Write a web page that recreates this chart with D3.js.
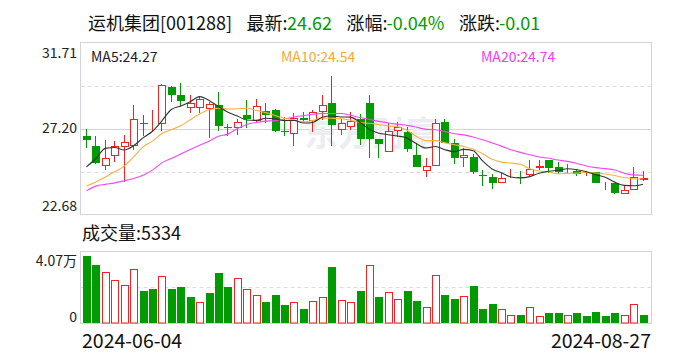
<!DOCTYPE html>
<html>
<head>
<meta charset="utf-8">
<script src="https://cdn.jsdelivr.net/npm/d3@7.9.0/dist/d3.min.js"></script>
<style>
  body { margin: 0; background: #fff; }
  svg { display: block; font-family: "Noto Sans CJK SC", "Noto Sans", sans-serif; }
</style>
</head>
<body>
<svg width="688" height="360"></svg>
<script>
// daily bars, 2024-06-04 .. 2024-08-27
const dateLabels = ['2024-06-04', '2024-08-27'];

const opens = [26.79, 26.27, 25.25, 25.76, 26.20, 26.27, 27.49, 27.33, 27.41, 29.38,
  28.94, 28.25, 28.25, 28.22, 28.42, 27.25, 27.20, 27.89, 27.58, 28.10,
  28.19, 27.07, 26.93, 27.77, 27.59, 28.07, 28.51, 27.14, 27.25, 27.70,
  28.51, 26.62, 25.94, 27.04, 27.02, 25.79, 24.94, 25.22, 27.51, 26.41,
  25.62, 25.70, 24.76, 24.64, 24.36, 24.63, 24.66, 24.73, 25.13, 25.53,
  25.15, 24.94, 24.97, 24.70, 24.89, 24.17, 24.31, 23.78, 23.99, 24.50];
const highs = [27.16, 26.79, 26.58, 26.54, 26.83, 28.42, 27.89, 28.16, 29.52, 29.45,
  29.56, 28.98, 28.85, 28.59, 29.12, 27.45, 27.72, 28.68, 28.77, 28.54,
  28.22, 27.80, 28.01, 28.04, 28.16, 28.94, 29.96, 27.67, 28.07, 27.98,
  28.95, 26.65, 27.46, 27.54, 27.25, 26.41, 25.64, 27.72, 27.72, 26.62,
  26.15, 25.85, 25.01, 24.80, 24.87, 25.09, 24.97, 25.53, 25.53, 25.53,
  25.43, 25.32, 25.09, 24.97, 24.92, 24.39, 24.34, 24.22, 25.18, 24.97];
const lows = [26.15, 25.32, 25.01, 25.44, 24.39, 26.09, 26.79, 27.05, 27.07, 28.59,
  28.30, 28.02, 28.02, 26.72, 27.05, 26.80, 26.83, 27.20, 27.46, 27.46,
  27.02, 26.79, 26.30, 27.53, 27.02, 27.63, 26.27, 26.84, 27.11, 26.32,
  25.62, 25.62, 25.94, 26.75, 25.97, 25.18, 24.66, 25.22, 26.41, 25.32,
  25.15, 24.80, 24.18, 24.02, 24.31, 24.62, 24.27, 24.70, 25.01, 24.85,
  24.78, 24.83, 24.71, 24.69, 24.31, 23.96, 23.78, 23.78, 23.99, 24.45];
const closes = [26.57, 25.39, 25.62, 26.25, 26.51, 27.70, 27.41, 27.38, 29.47, 28.98,
  28.64, 28.51, 28.73, 28.47, 27.33, 27.23, 27.51, 27.68, 28.35, 27.88,
  27.07, 27.05, 27.77, 27.63, 28.04, 28.45, 27.38, 27.49, 27.58, 26.65,
  26.67, 26.36, 27.07, 27.25, 26.11, 25.18, 25.25, 27.46, 26.41, 25.62,
  25.78, 24.89, 24.74, 24.34, 24.62, 24.67, 24.62, 25.09, 25.25, 25.13,
  24.89, 25.04, 24.83, 24.72, 24.36, 24.18, 23.82, 23.96, 24.63, 24.62];
const volumes = [40700, 35500, 31100, 26200, 23100, 32900, 19600, 20800, 28600, 20800,
  21900, 15900, 12700, 18400, 30700, 21900, 27400, 20700, 17000, 12700,
  17200, 11000, 12700, 9000, 13300, 15800, 34300, 13900, 12700, 19600,
  35400, 15800, 18800, 14500, 19600, 13500, 10200, 29200, 17200, 14700,
  16400, 22700, 9000, 11600, 9000, 5300, 5300, 10200, 4500, 6100,
  6100, 5300, 6100, 4700, 6700, 4700, 6100, 5300, 11500, 5334];

const ma5 = [25.18, 25.62, 26.15, 26.20, 26.07, 26.29, 26.70, 27.05, 27.60, 28.19,
  28.38, 28.60, 28.87, 28.67, 28.34, 28.05, 27.85, 27.64, 27.62, 27.73,
  27.70, 27.61, 27.62, 27.48, 27.51, 27.79, 27.85, 27.80, 27.79, 27.51,
  27.15, 26.95, 26.87, 26.80, 26.69, 26.39, 26.17, 26.25, 26.08, 25.98,
  26.10, 26.03, 25.49, 25.07, 24.87, 24.65, 24.60, 24.67, 24.85, 24.95,
  25.00, 25.08, 25.03, 24.92, 24.77, 24.63, 24.38, 24.21, 24.19, 24.27];
const ma10 = [24.18, 24.39, 24.65, 24.92, 25.22, 25.70, 26.23, 26.53, 26.93, 27.13,
  27.34, 27.65, 27.96, 28.18, 28.26, 28.22, 28.23, 28.26, 28.14, 28.03,
  27.88, 27.73, 27.63, 27.55, 27.62, 27.74, 27.73, 27.71, 27.63, 27.51,
  27.47, 27.40, 27.33, 27.29, 27.10, 26.77, 26.56, 26.56, 26.44, 26.34,
  26.25, 26.10, 25.87, 25.58, 25.43, 25.38, 25.32, 25.08, 24.96, 24.91,
  24.82, 24.84, 24.85, 24.89, 24.86, 24.81, 24.73, 24.62, 24.56, 24.54];
const ma20 = [23.92, 24.17, 24.26, 24.34, 24.45, 24.57, 24.74, 25.01, 25.39, 25.62,
  25.85, 26.09, 26.32, 26.53, 26.79, 26.90, 27.20, 27.41, 27.51, 27.58,
  27.61, 27.69, 27.80, 27.87, 27.94, 27.98, 27.98, 27.98, 27.89, 27.77,
  27.67, 27.57, 27.48, 27.42, 27.36, 27.26, 27.15, 27.13, 27.04, 26.92,
  26.86, 26.75, 26.60, 26.44, 26.27, 26.08, 25.94, 25.82, 25.70, 25.63,
  25.54, 25.47, 25.36, 25.23, 25.14, 25.09, 25.02, 24.85, 24.76, 24.74];

const priceTicks = ['22.68', '27.20', '31.71'];
const volTicks = ['0', '4.07万'];

const RED = '#f02424', GREEN = '#009b00';
const svg = d3.select('svg');
const n = closes.length;

const L = 80.5, R = 651.5;
const x = d3.scaleBand().domain(d3.range(n)).range([82, 648]).paddingInner(0.2).paddingOuter(0.1);
const y = d3.scaleLinear().domain([22.68, 31.71]).range([214.5, 42.5]);
const yv = d3.scaleLinear().domain([0, 43350]).range([323.5, 251.5]);

// title, each piece placed where it sits in the source
const title = svg.append('g').attr('font-size', 18);
[['运机集团[001288]', '#111', 88], ['最新:', '#111', 246.5], ['24.62', GREEN, 287],
 ['涨幅:', '#111', 346.5], ['-0.04%', GREEN, 386.5],
 ['涨跌:', '#111', 459], ['-0.01', GREEN, 499]].forEach(([t, c, xx]) =>
  title.append('text').attr('x', xx).attr('y', 30).attr('fill', c).text(t));

// panels
function panel(top, bottom) {
  svg.append('rect').attr('x', L).attr('y', top).attr('width', R - L).attr('height', bottom - top)
    .attr('fill', 'none').attr('stroke', '#d2d2da');
}
panel(42.5, 214.5);
d3.range(1, 4).forEach(k => {
  const yy = Math.round(42.5 + k * 43) + 0.5;
  svg.append('line').attr('x1', L).attr('x2', R).attr('y1', yy).attr('y2', yy)
    .attr('stroke', k === 2 ? '#d2d2da' : '#dcdcdc').attr('stroke-dasharray', k === 2 ? null : '4,3');
});
panel(251.5, 323.5);
svg.append('line').attr('x1', L).attr('x2', R).attr('y1', 287.5).attr('y2', 287.5)
  .attr('stroke', '#dcdcdc').attr('stroke-dasharray', '4,3');

// watermark
svg.append('text').attr('x', 372).attr('y', 146).attr('text-anchor', 'middle')
  .attr('font-size', 34).attr('font-weight', 'bold').attr('fill', '#ededf1').text('东方财富');

// axis labels
const axisG = svg.append('g').attr('font-size', 14).attr('fill', '#222').attr('text-anchor', 'end');
priceTicks.forEach((t, i) => {
  const yy = y(+t) + [-4, 5, 15][i];
  axisG.append('text').attr('x', 77).attr('y', yy).text(t);
});
axisG.append('text').attr('x', 77).attr('y', 266).text(volTicks[1]);
axisG.append('text').attr('x', 77).attr('y', 321.5).text(volTicks[0]);

// MA legend
[['MA5:' + ma5[n - 1].toFixed(2), '#222', 91], ['MA10:' + ma10[n - 1].toFixed(2), '#f5a933', 281],
 ['MA20:' + ma20[n - 1].toFixed(2), '#f03cf0', 481]].forEach(([t, c, xx]) =>
  svg.append('text').attr('x', xx).attr('y', 61.5).attr('font-size', 14).attr('fill', c).text(t));

// candles
const bw = 8;
const candles = svg.append('g');
d3.range(n).forEach(i => {
  const up = closes[i] >= opens[i];
  const bx = Math.round(x(i));
  const cx = bx + 3.5;
  const top = Math.round(y(Math.max(opens[i], closes[i])));
  const bot = Math.max(top + 1, Math.round(y(Math.min(opens[i], closes[i]))));
  const c = up ? RED : GREEN;
  candles.append('line').attr('x1', cx).attr('x2', cx)
    .attr('y1', Math.round(y(highs[i]))).attr('y2', Math.round(y(lows[i]))).attr('stroke', c);
  if (up) {
    candles.append('rect').attr('x', bx + 0.5).attr('y', top + 0.5).attr('width', bw - 1)
      .attr('height', Math.max(0, bot - top - 1)).attr('fill', '#fff').attr('stroke', c);
  } else {
    candles.append('rect').attr('x', bx).attr('y', top).attr('width', bw)
      .attr('height', Math.max(1, bot - top)).attr('fill', c);
  }
});

// moving averages
[[ma20, '#f545f5'], [ma10, '#f7b040'], [ma5, '#333']].forEach(([arr, c]) =>
  svg.append('path').datum(arr).attr('d', d3.line().x((d, i) => x(i) + 3.5).y(d => y(d)).curve(d3.curveMonotoneX))
    .attr('fill', 'none').attr('stroke', c).attr('stroke-width', 1.1));

// volume
svg.append('text').attr('x', 82).attr('y', 240).attr('font-size', 18).attr('fill', '#111')
  .text('成交量:' + volumes[n - 1]);
const vg = svg.append('g');
d3.range(n).forEach(i => {
  const prev = i === 0 ? opens[0] : closes[i - 1];
  const up = closes[i] > prev;
  const bx = Math.round(x(i));
  const top = Math.round(yv(volumes[i]));
  if (up) {
    vg.append('rect').attr('x', bx + 0.5).attr('y', top + 0.5).attr('width', bw - 1)
      .attr('height', 323 - top - 0.5).attr('fill', '#fff').attr('stroke', RED);
  } else {
    vg.append('rect').attr('x', bx).attr('y', top).attr('width', bw).attr('height', 323 - top).attr('fill', GREEN);
  }
});

// dates
svg.append('text').attr('x', 82).attr('y', 348).attr('font-size', 19.5).attr('fill', '#111').text(dateLabels[0]);
svg.append('text').attr('x', 651).attr('y', 348).attr('font-size', 19.5).attr('fill', '#111')
  .attr('text-anchor', 'end').text(dateLabels[1]);
</script>
</body>
</html>
